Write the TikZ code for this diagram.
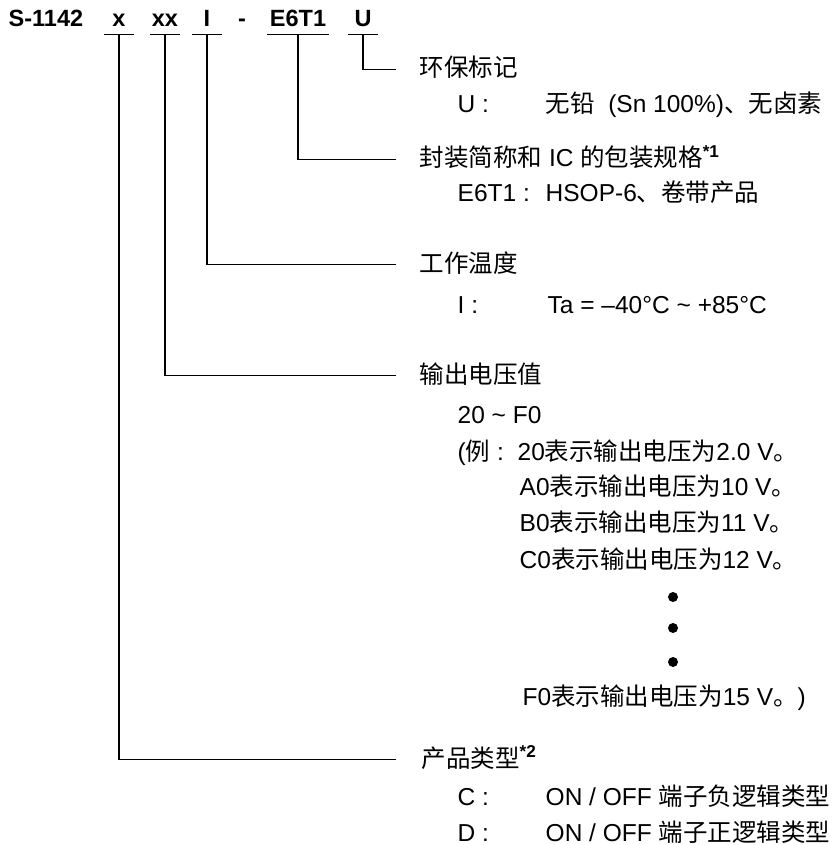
\documentclass[tikz,border=0pt]{standalone}
\usepackage{fontspec}
\setmainfont{Liberation Sans}
\newfontfamily\cjk{Noto Sans CJK SC}
\begin{document}
\begin{tikzpicture}[x=1pt,y=-1pt,line width=1.4pt,
  txt/.style={anchor=base west,inner sep=0pt,text height=20pt,text depth=5pt,font=\fontsize{24.5}{28}\selectfont},
  code/.style={anchor=base,inner sep=0pt,minimum width=29pt,text height=17pt,text depth=7pt,font=\fontsize{23.5}{28}\selectfont\bfseries},
  dot/.style={circle,fill,inner sep=0pt,minimum size=10pt}]

\useasboundingbox (0,0) rectangle (831,845);

\node[code,anchor=base west,minimum width=0pt] (s1142) at (8,27) {S-1142};
\node[code] (px) at (119,27) {x};
\node[code] (pxx) at (165,27) {xx};
\node[code] (pI) at (207,27) {I};
\node[code] (pdash) at (242,27) {-};
\node[code,minimum width=60pt] (pE) at (298,27) {E6T1};
\node[code] (pU) at (363,27) {U};

\foreach \n in {px,pxx,pI,pE,pU}
  \draw (\n.south west) -- (\n.south east);

\node[txt] (hU) at (419,77) {\cjk 环保标记};
\node[txt] (kU) at (457,113) {U :};
\node[txt] (vU) at (545,113) {{\cjk 无铅}\ \ (Sn 100\%){\cjk 、无卤素}};

\node[txt] (hE) at (419,167) {{\cjk 封装简称和} IC {\cjk 的包装规格}\textsuperscript{\bfseries *1}};
\node[txt] (kE) at (457,201) {E6T1 :};
\node[txt] (vE) at (545,201) {HSOP-6{\cjk 、卷带产品}};

\node[txt] (hI) at (419,272) {\cjk 工作温度};
\node[txt] (kI) at (457,313) {I :};
\node[txt] (vI) at (547,313) {Ta = –40°C \textasciitilde{} +85°C};

\node[txt] (hxx) at (419,383) {\cjk 输出电压值};
\node[txt] (rxx) at (457,423) {20 \textasciitilde{} F0};
\node[txt] (kxx) at (457,460) {({\cjk 例} :};
\node[txt] (e20) at (517,460) {20{\cjk 表示输出电压为}2.0 V{\cjk 。}};
\node[txt] (eA0) at (519,495) {A0{\cjk 表示输出电压为}10 V{\cjk 。}};
\node[txt] (eB0) at (519,531) {B0{\cjk 表示输出电压为}11 V{\cjk 。}};
\node[txt] (eC0) at (519,568) {C0{\cjk 表示输出电压为}12 V{\cjk 。}};
\node[dot] (d1) at (673,597) {};
\node[dot] (d2) at (673,628) {};
\node[dot] (d3) at (673,662) {};
\node[txt] (eF0) at (522,705) {F0{\cjk 表示输出电压为}15 V{\cjk 。})};

\node[txt] (hx) at (421,767) {{\cjk 产品类型}\textsuperscript{\bfseries *2}};
\node[txt] (kC) at (457,805) {C :};
\node[txt] (vC) at (545,805) {ON / OFF {\cjk 端子负逻辑类型}};
\node[txt] (kD) at (457,841) {D :};
\node[txt] (vD) at (545,841) {ON / OFF {\cjk 端子正逻辑类型}};

\draw (pU.south) |- ([xshift=-23pt]hU.west);
\draw (pE.south) |- ([xshift=-23pt]hE.west);
\draw (pI.south) |- ([xshift=-23pt]hI.west);
\draw (pxx.south) |- ([xshift=-23pt]hxx.west);
\draw (px.south) |- ([xshift=-25pt]hx.west);
\end{tikzpicture}
\end{document}
